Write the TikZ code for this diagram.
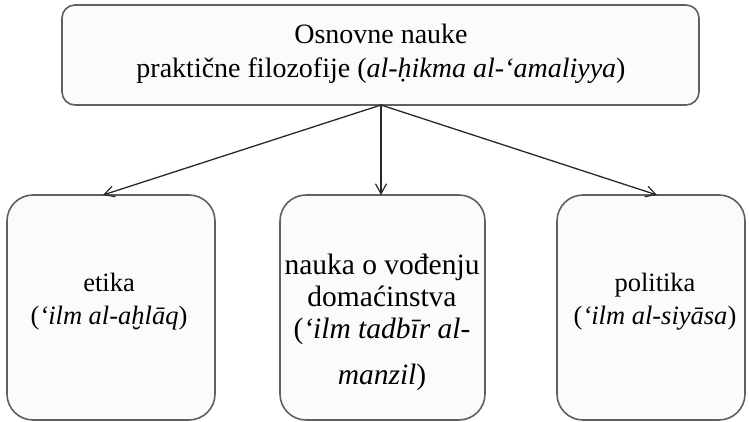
\documentclass[tikz,border=0pt]{standalone}
\usepackage{fontspec}
\setmainfont{Liberation Serif}
\usetikzlibrary{arrows.meta}
\begin{document}
\begin{tikzpicture}[x=1pt,y=-1pt,
  box/.style={draw={rgb,255:red,95;green,95;blue,100},line width=1.6pt,fill={rgb,255:red,251;green,251;blue,253}},
  lbl/.style={align=center,inner sep=0pt,anchor=base},
  conn/.style={draw={rgb,255:red,40;green,40;blue,40},line width=1.3pt,-{Straight Barb[length=10pt,width=11pt,line width=1.2pt]}}]
\useasboundingbox (0,0) rectangle (749,422);
\draw[box,rounded corners=13pt] (62,5) rectangle (699,105);
\coordinate (top) at (381,105);
\node[lbl,font=\fontsize{28}{34}\selectfont] (t) at (381,78) {Osnovne nauke\\praktične filozofije (\textit{al-ḥikma al-‘amaliyya})};
\draw[box,rounded corners=26pt] (7,195) rectangle (215,420);
\draw[box,rounded corners=26pt] (280,195) rectangle (485,420);
\draw[box,rounded corners=26pt] (557,195) rectangle (745,420);
\coordinate (l) at (103,195);
\coordinate (m) at (381,195);
\coordinate (r) at (657,195);
\node[lbl,font=\fontsize{26.5}{26}\selectfont] (a) at (109,324) {etika\\[7pt](\textit{‘ilm al-aḫlāq})};
\node[lbl,font=\fontsize{29.5}{29}\selectfont] (b) at (382,384) {nauka o vođenju\\[3pt]domaćinstva\\[3pt](\textit{‘ilm tadbīr al-}\\[17pt]\textit{manzil})};
\node[lbl,font=\fontsize{26.5}{26}\selectfont] (c) at (655,324) {politika\\[7pt](\textit{‘ilm al-siyāsa})};
\draw[conn] (top) -- (l);
\draw[conn] (top) -- (m);
\draw[conn] (top) -- (r);
\end{tikzpicture}
\end{document}
